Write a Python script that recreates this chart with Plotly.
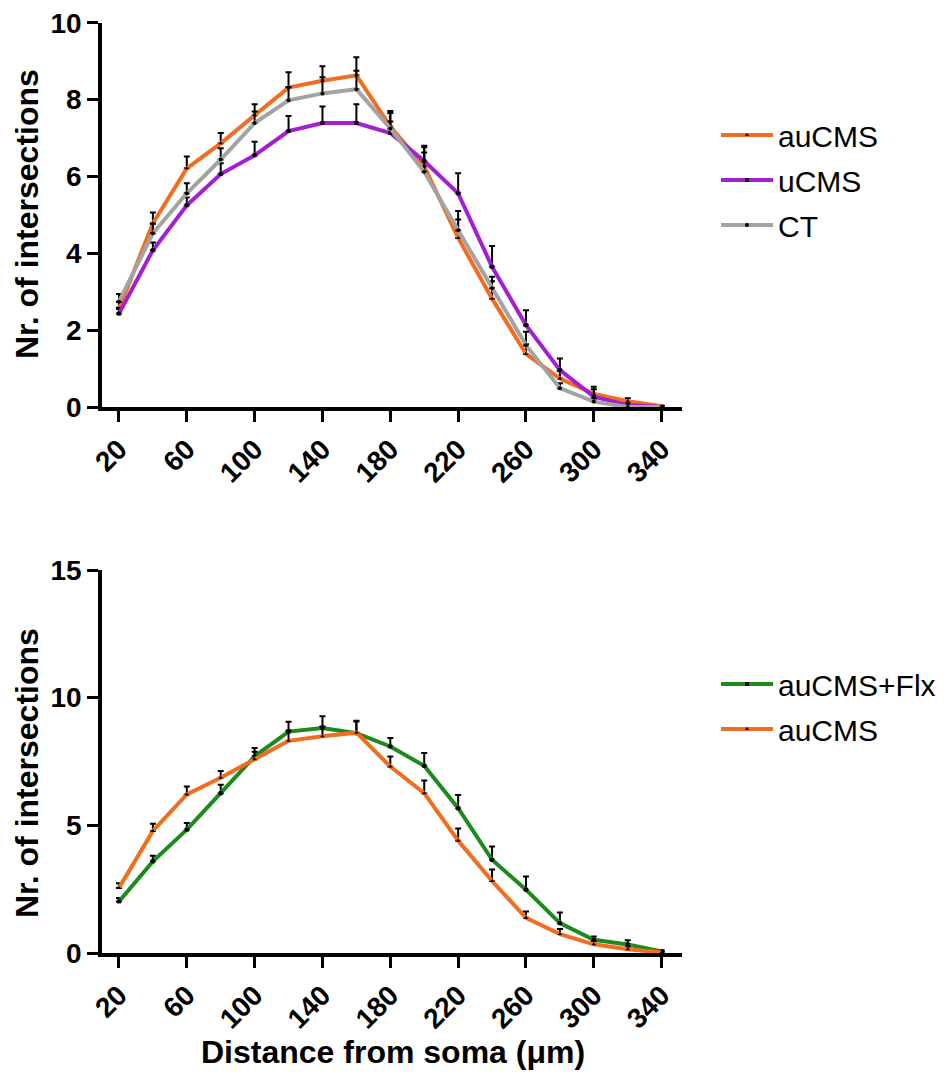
import plotly.graph_objects as go

# Sholl analysis: number of dendritic intersections vs. distance from soma
distance = [20, 40, 60, 80, 100, 120, 140, 160, 180, 200, 220, 240, 260, 280, 300, 320, 340]
x_tick_vals = [20, 60, 100, 140, 180, 220, 260, 300, 340]

au_cms = [2.55, 4.78, 6.21, 6.86, 7.59, 8.31, 8.49, 8.63, 7.30, 6.26, 4.40, 2.82, 1.38, 0.74, 0.34, 0.15, 0.02]
au_cms_sem = [0.18, 0.28, 0.31, 0.27, 0.29, 0.40, 0.38, 0.47, 0.40, 0.50, 0.48, 0.45, 0.25, 0.20, 0.12, 0.08, 0.02]

u_cms = [2.43, 4.08, 5.25, 6.06, 6.55, 7.18, 7.39, 7.39, 7.13, 6.40, 5.56, 3.65, 2.13, 0.96, 0.27, 0.05, 0.00]
u_cms_sem = [0.15, 0.20, 0.20, 0.28, 0.35, 0.39, 0.43, 0.49, 0.30, 0.40, 0.52, 0.54, 0.39, 0.30, 0.26, 0.05, 0.00]

ct = [2.74, 4.52, 5.56, 6.44, 7.39, 7.98, 8.16, 8.27, 7.25, 6.12, 4.60, 3.09, 1.61, 0.49, 0.14, 0.00, 0.00]
ct_sem = [0.20, 0.25, 0.26, 0.29, 0.30, 0.35, 0.42, 0.48, 0.40, 0.50, 0.50, 0.30, 0.35, 0.13, 0.08, 0.00, 0.00]

au_cms_flx = [2.02, 3.59, 4.83, 6.26, 7.70, 8.67, 8.81, 8.61, 8.09, 7.33, 5.67, 3.65, 2.48, 1.17, 0.52, 0.33, 0.06]
au_cms_flx_sem = [0.13, 0.22, 0.26, 0.33, 0.33, 0.39, 0.46, 0.46, 0.33, 0.50, 0.52, 0.52, 0.52, 0.42, 0.13, 0.17, 0.05]

W, H = 945, 1082
FONT = "Arial, Liberation Sans, sans-serif"

ORANGE = "#F26D1F"
PURPLE = "#A21FD2"
GREY = "#A3A3A3"
GREEN = "#1C8A1C"

# plot areas in pixels (left, right, top, bottom)
PX_LEFT, PX_RIGHT = 102, 682
TOP_PLOT = (22.7, 407)
BOTTOM_PLOT = (570, 953)


def ydom(top_bottom):
    top, bottom = top_bottom
    return [1 - bottom / H, 1 - top / H]


fig = go.Figure()


def add_series(y, sem, name, color, symbol, xa, ya, legend):
    fig.add_trace(go.Scatter(
        x=distance, y=y, name=name, mode="lines+markers",
        line=dict(color=color, width=4),
        marker=dict(color="black", size=4, symbol=symbol),
        error_y=dict(type="data", array=sem, arrayminus=[0] * len(sem),
                     symmetric=False, color="black", thickness=2, width=3),
        xaxis=xa, yaxis=ya, legend=legend, legendgroup=f"{legend}-{name}",
    ))


add_series(au_cms, au_cms_sem, "auCMS", ORANGE, "triangle-up", "x", "y", "legend")
add_series(u_cms, u_cms_sem, "uCMS", PURPLE, "square", "x", "y", "legend")
add_series(ct, ct_sem, "CT", GREY, "circle", "x", "y", "legend")

add_series(au_cms_flx, au_cms_flx_sem, "auCMS+Flx", GREEN, "square", "x2", "y2", "legend2")
add_series(au_cms, au_cms_sem, "auCMS", ORANGE, "triangle-up", "x2", "y2", "legend2")

tick_font = dict(family=FONT, size=28, color="black", weight="bold")
axis_common = dict(
    showline=True, linewidth=3.5, linecolor="black",
    ticks="outside", ticklen=11, tickwidth=3, tickcolor="black",
    showgrid=False, zeroline=False, tickfont=tick_font, automargin=False,
)
xdom = [PX_LEFT / W, PX_RIGHT / W]

legend_font = dict(family=FONT, size=30, color="black")
legend_common = dict(xanchor="left", yanchor="top", font=legend_font,
                     bgcolor="rgba(0,0,0,0)", itemwidth=52,
                     traceorder="grouped", tracegroupgap=3)

fig.update_layout(
    width=W, height=H,
    margin=dict(l=0, r=0, t=0, b=0),
    paper_bgcolor="white", plot_bgcolor="white",
    font=dict(family=FONT, color="black"),
    xaxis=dict(domain=xdom, range=[10, 352], anchor="y", tickvals=x_tick_vals,
               tickangle=-45, **axis_common),
    yaxis=dict(domain=ydom(TOP_PLOT), range=[0, 10], dtick=2, anchor="x", **axis_common),
    xaxis2=dict(domain=xdom, range=[10, 352], anchor="y2", tickvals=x_tick_vals,
                tickangle=-45, **axis_common),
    yaxis2=dict(domain=ydom(BOTTOM_PLOT), range=[0, 15], dtick=5, anchor="x2", **axis_common),
    legend=dict(x=716 / W, y=1 - 109 / H, **legend_common),
    legend2=dict(x=716 / W, y=1 - 658 / H, **legend_common),
    showlegend=True,
)

title_font = dict(family=FONT, size=32, color="black", weight="bold")
fig.add_annotation(text="Nr. of intersections", xref="paper", yref="paper",
                   x=27 / W, y=1 - 214 / H, textangle=-90, showarrow=False,
                   xanchor="center", yanchor="middle", font=title_font)
fig.add_annotation(text="Nr. of intersections", xref="paper", yref="paper",
                   x=27 / W, y=1 - 773 / H, textangle=-90, showarrow=False,
                   xanchor="center", yanchor="middle", font=title_font)
fig.add_annotation(text="Distance from soma (μm)", xref="paper", yref="paper",
                   x=393 / W, y=1 - 1052 / H, showarrow=False,
                   xanchor="center", yanchor="middle", font=title_font)

fig.write_html("out.html")
